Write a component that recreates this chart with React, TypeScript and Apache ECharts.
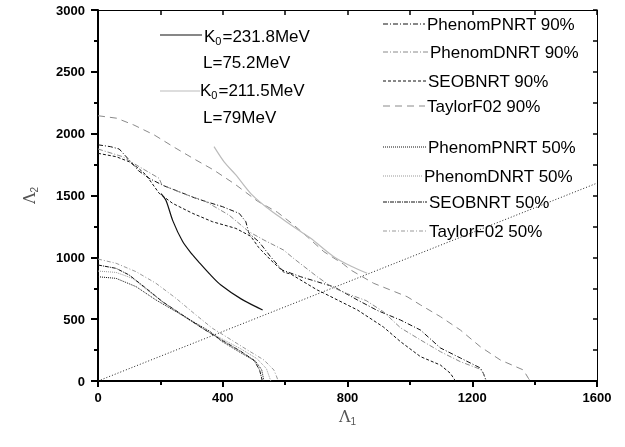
import React, { useEffect, useRef } from "react";
import * as echarts from "echarts";

// ---- data (Λ1, Λ2) ----
const xTicks = [0, 400, 800, 1200, 1600];
const yTicks = [0, 500, 1000, 1500, 2000, 2500, 3000];

const diagonal: [number, number][] = [[0, 0], [1600, 1600]];

const k231: [number, number][] = [
  [202, 1515], [218, 1460], [240, 1295], [271, 1130], [300, 1030], [324, 960],
  [360, 860], [394, 776], [460, 662], [528, 574],
];
const k211: [number, number][] = [
  [372, 1895], [405, 1770], [442, 1666], [490, 1515], [540, 1405], [596, 1302],
  [640, 1225], [682, 1154], [756, 1005], [810, 930], [863, 871],
];

const phenomP90: [number, number][] = [
  [0, 1910], [40, 1895], [68, 1876], [100, 1787], [130, 1700], [164, 1639],
  [210, 1580], [260, 1531], [314, 1477], [360, 1440], [399, 1410], [453, 1355],
  [474, 1288], [484, 1194], [516, 1126], [554, 1003], [590, 898], [650, 843],
  [756, 762], [832, 655], [896, 570], [970, 493], [1034, 412], [1098, 267],
  [1162, 186], [1226, 105], [1236, 60], [1245, 0],
];
const phenomD90: [number, number][] = [
  [0, 1876], [79, 1814], [132, 1733], [196, 1639], [205, 1585], [271, 1518],
  [346, 1450], [420, 1342], [484, 1207], [532, 1140], [595, 1059], [628, 990],
  [703, 843], [750, 760], [800, 705], [860, 650], [915, 560], [970, 430],
  [1034, 332], [1098, 237], [1162, 156], [1226, 95], [1236, 60], [1245, 0],
];
const seob90: [number, number][] = [
  [0, 1841], [58, 1814], [100, 1773], [130, 1720], [154, 1666], [196, 1518],
  [239, 1437], [303, 1356], [367, 1288], [442, 1234], [490, 1170], [515, 1080],
  [554, 978], [596, 880], [618, 865], [703, 736], [723, 712], [832, 574],
  [915, 437], [970, 318], [1034, 197], [1098, 129], [1130, 62], [1146, 0],
];
const taylor90: [number, number][] = [
  [0, 2145], [60, 2125], [115, 2070], [180, 1990], [243, 1892], [305, 1800],
  [371, 1706], [440, 1590], [511, 1455], [575, 1365], [628, 1261], [672, 1164],
  [724, 1046], [787, 945], [810, 898], [884, 790], [991, 682], [1034, 615],
  [1098, 520], [1162, 412], [1226, 277], [1290, 170], [1364, 89], [1380, 22],
  [1386, 0],
];

const phenomP50: [number, number][] = [
  [0, 843], [58, 830], [122, 763], [186, 655], [250, 561], [314, 467],
  [360, 400], [394, 325], [458, 228], [505, 160], [525, 90], [532, 0],
];
const phenomD50: [number, number][] = [
  [0, 889], [58, 878], [111, 830], [164, 722], [228, 601], [292, 493],
  [340, 420], [394, 345], [458, 260], [510, 180], [540, 100], [554, 0],
];
const seob50: [number, number][] = [
  [0, 938], [58, 911], [100, 857], [154, 750], [207, 641], [271, 534],
  [335, 426], [394, 335], [458, 240], [500, 168], [518, 90], [527, 0],
];
const taylor50: [number, number][] = [
  [0, 986], [58, 952], [122, 884], [186, 790], [250, 669], [314, 534],
  [367, 426], [394, 385], [479, 251], [532, 170], [564, 89], [572, 40], [578, 0],
];

const legendNames = [
  "PhenomPNRT 90%", "PhenomDNRT 90%", "SEOBNRT 90%", "TaylorF02 90%",
  "PhenomPNRT 50%", "PhenomDNRT 50%", "SEOBNRT 50%", "TaylorF02 50%",
];

const SANS = "'Liberation Sans', Arial, sans-serif";
const SERIF = "'DejaVu Serif', 'Liberation Serif', serif";

type Sty = { color: string; dash: number[]; width: number };
const styles: Sty[] = [
  { color: "#111", dash: [5, 2, 1, 2], width: 1 },
  { color: "#8a8a8a", dash: [5, 2, 1, 2], width: 1 },
  { color: "#111", dash: [3, 2], width: 1 },
  { color: "#8a8a8a", dash: [7, 5], width: 1 },
  { color: "#111", dash: [1, 1], width: 1 },
  { color: "#999", dash: [1, 1], width: 1 },
  { color: "#111", dash: [4, 1, 1, 1], width: 1 },
  { color: "#999", dash: [4, 2, 1, 2], width: 1 },
];
const curveData = [phenomP90, phenomD90, seob90, taylor90, phenomP50, phenomD50, seob50, taylor50];

const legendRowsY = [24, 52, 81, 106, 147, 176, 202, 231];
const legendTextX = [427, 430, 428, 427, 428, 424, 429, 429];

export default function App() {
  const ref = useRef<HTMLDivElement>(null);
  useEffect(() => {
    if (!ref.current) return;
    const chart = echarts.init(ref.current, undefined, { renderer: "svg" });

    const series: any[] = curveData.map((d, i) => ({
      name: legendNames[i],
      type: "line",
      xAxisIndex: 0,
      yAxisIndex: 0,
      data: d,
      showSymbol: false,
      symbol: "none",
      lineStyle: { color: styles[i].color, width: styles[i].width, type: styles[i].dash },
    }));
    series.push({
      name: "diag", type: "line", xAxisIndex: 0, yAxisIndex: 0, data: diagonal, showSymbol: false, symbol: "none",
      lineStyle: { color: "#222", width: 1, type: [1, 2] },
    });
    series.push({
      name: "K231", type: "line", xAxisIndex: 0, yAxisIndex: 0, data: k231, showSymbol: false, symbol: "none", smooth: 0.3,
      lineStyle: { color: "#111", width: 1.2, type: "solid" },
    });
    series.push({
      name: "K211", type: "line", xAxisIndex: 0, yAxisIndex: 0, data: k211, showSymbol: false, symbol: "none", smooth: 0.3,
      lineStyle: { color: "#bbb", width: 1.2, type: "solid" },
    });

    const graphic: any[] = [];
    legendNames.forEach((n, i) => {
      graphic.push({
        type: "line",
        shape: { x1: 383, y1: legendRowsY[i], x2: legendTextX[i] - 2, y2: legendRowsY[i] },
        style: { stroke: styles[i].color, lineWidth: 1, lineDash: styles[i].dash },
      });
      graphic.push({
        type: "text", x: legendTextX[i], y: legendRowsY[i],
        style: { text: n, fill: "#000", font: `17px ${SANS}`, align: "left", verticalAlign: "middle" },
      });
    });
    const rich = {
      m: { fontSize: 17, fontFamily: SANS, color: "#000", lineHeight: 20 },
      s: { fontSize: 11, fontFamily: SANS, color: "#000", lineHeight: 11, verticalAlign: "bottom", padding: [11, 1, 0, 0] },
    };
    graphic.push(
      { type: "line", shape: { x1: 160, y1: 35, x2: 202, y2: 35 }, style: { stroke: "#111", lineWidth: 1.2 } },
      { type: "text", x: 204, y: 36, style: { text: "{m|K}{s|0}{m|=231.8MeV}", rich, verticalAlign: "middle", align: "left" } },
      { type: "text", x: 203, y: 62, style: { text: "L=75.2MeV", fill: "#000", font: `17px ${SANS}`, verticalAlign: "middle", align: "left" } },
      { type: "line", shape: { x1: 160, y1: 91, x2: 200, y2: 91 }, style: { stroke: "#bbb", lineWidth: 1.2 } },
      { type: "text", x: 200, y: 90, style: { text: "{m|K}{s|0}{m|=211.5MeV}", rich, verticalAlign: "middle", align: "left" } },
      { type: "text", x: 203, y: 117, style: { text: "L=79MeV", fill: "#000", font: `17px ${SANS}`, verticalAlign: "middle", align: "left" } },
    );

    const nameRich = {
      a: { fontSize: 16, fontFamily: SERIF, color: "#555" },
      b: { fontSize: 10, fontFamily: SANS, color: "#555", verticalAlign: "bottom", padding: [10, 0, 0, 0] },
    };

    chart.setOption({
      animation: false,
      grid: { left: 98, right: 28, top: 10, bottom: 66 },
      xAxis: [
        {
          type: "value", gridIndex: 0, min: 0, max: 1600, interval: 400, position: "bottom",
          name: "{a|Λ}{b|1}", nameLocation: "middle", nameGap: 24,
          nameTextStyle: { rich: nameRich },
          axisLine: { show: true, onZero: false, lineStyle: { color: "#000", width: 2 } },
          axisTick: { show: true, inside: false, length: 6, lineStyle: { color: "#000", width: 2 } },
          minorTick: { show: true, splitNumber: 2, length: 4, lineStyle: { color: "#000", width: 2 } },
          axisLabel: {
            color: "#000", fontSize: 13, fontWeight: "bold", fontFamily: SANS, margin: 10,
            formatter: (v: number) => String(v),
          },
          splitLine: { show: false },
        },
        {
          type: "value", gridIndex: 0, min: 0, max: 1600, interval: 200, position: "top",
          axisLine: { show: true, onZero: false, lineStyle: { color: "#000", width: 1 } },
          axisTick: { show: true, inside: true, length: 5, lineStyle: { color: "#000", width: 1.5 } },
          axisLabel: { show: false },
          splitLine: { show: false },
        },
      ],
      yAxis: [
        {
          type: "value", gridIndex: 0, min: 0, max: 3000, interval: 500, position: "left",
          name: "{a|Λ}{b|2}", nameLocation: "middle", nameGap: 59,
          nameTextStyle: { rich: nameRich },
          axisLine: { show: true, onZero: false, lineStyle: { color: "#000", width: 2 } },
          axisTick: { show: true, inside: false, length: 7, lineStyle: { color: "#000", width: 2 } },
          minorTick: { show: true, splitNumber: 2, length: 4, lineStyle: { color: "#000", width: 2 } },
          axisLabel: {
            color: "#000", fontSize: 13, fontWeight: "bold", fontFamily: SANS, margin: 13,
            formatter: (v: number) => String(v),
          },
          splitLine: { show: false },
        },
        {
          type: "value", gridIndex: 0, min: 0, max: 3000, interval: 250, position: "right",
          axisLine: { show: true, onZero: false, lineStyle: { color: "#000", width: 1 } },
          axisTick: { show: true, inside: true, length: 4, lineStyle: { color: "#000", width: 1.5 } },
          axisLabel: { show: false },
          splitLine: { show: false },
        },
      ],
      series,
      graphic,
    });
    return () => chart.dispose();
  }, []);
  return <div ref={ref} style={{ position: "fixed", left: 0, top: 0, width: 625, height: 447 }} />;
}
